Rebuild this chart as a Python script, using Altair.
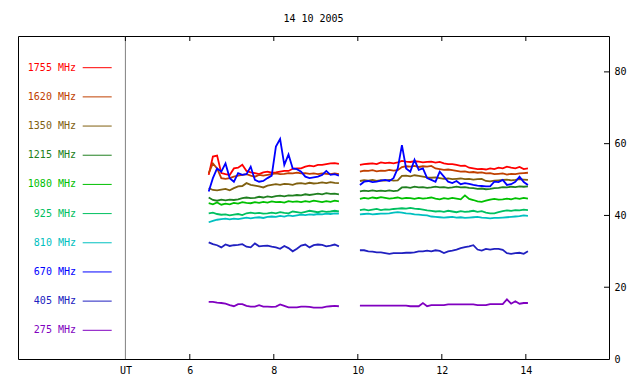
import altair as alt
import pandas as pd

FONT = "DejaVu Sans Mono"
TITLE = "14 10 2005"

BANDS = ["1755 MHz", "1620 MHz", "1350 MHz", "1215 MHz", "1080 MHz",
         "925 MHz", "810 MHz", "670 MHz", "405 MHz", "275 MHz"]
COLORS = ["#ff0000", "#c04000", "#806010", "#208020", "#00c000",
          "#00c060", "#00c0c0", "#0000ff", "#2020c0", "#8000c0"]

X_TICK_HOURS = [6, 8, 10, 12, 14]
UT_HOUR = 4.467
Y_TICKS = [0, 20, 40, 60, 80]
Y_INNER_TICKS = [20, 40, 60, 80]

T1 = [6.45, 6.55, 6.65, 6.75, 6.85, 6.95, 7.05, 7.15, 7.25, 7.35, 7.45, 7.55,
      7.65, 7.75, 7.85, 7.95, 8.05, 8.15, 8.25, 8.35, 8.45, 8.55, 8.65, 8.75,
      8.85, 8.95, 9.05, 9.15, 9.25, 9.35, 9.45, 9.55]
T2 = [10.05, 10.15, 10.25, 10.35, 10.45, 10.55, 10.65, 10.75, 10.85, 10.95,
      11.05, 11.15, 11.25, 11.35, 11.45, 11.55, 11.65, 11.75, 11.85, 11.95,
      12.05, 12.15, 12.25, 12.35, 12.45, 12.55, 12.65, 12.75, 12.85, 12.95,
      13.05, 13.15, 13.25, 13.35, 13.45, 13.55, 13.65, 13.75, 13.85, 13.95, 14.05]

V1755_A = [51.3, 56.4, 56.7, 51.8, 51.5, 51.3, 53.1, 53.3, 54.1, 52.4, 52.0, 51.8,
           51.5, 52.0, 52.2, 51.9, 52.0, 52.2, 52.4, 52.4, 53.0, 53.1, 53.1, 53.6,
           53.9, 53.7, 54.1, 54.1, 54.3, 54.5, 54.6, 54.4]
V1755_B = [54.1, 54.3, 54.4, 54.5, 54.3, 54.8, 54.6, 54.7, 54.5, 54.8, 55.2, 55.0,
           54.9, 55.1, 55.0, 54.8, 54.9, 55.0, 54.7, 54.9, 54.5, 54.3, 54.3, 54.1,
           53.8, 53.9, 53.3, 53.1, 52.9, 53.0, 52.8, 53.1, 52.9, 53.3, 53.1, 53.6,
           53.3, 53.1, 53.5, 52.9, 53.1]
V1620_A = [51.8, 54.5, 53.1, 50.4, 50.2, 50.4, 50.8, 51.1, 51.3, 51.5, 51.1, 50.8,
           51.3, 51.1, 51.3, 51.5, 51.7, 51.5, 51.6, 51.8, 51.7, 51.9, 51.7, 51.8,
           51.6, 51.7, 51.5, 51.7, 51.6, 51.5, 51.7, 51.5]
V1620_B = [52.2, 52.5, 52.4, 52.6, 52.3, 52.5, 52.4, 52.7, 52.5, 52.6, 53.5, 53.7,
           53.6, 53.8, 53.5, 53.7, 53.6, 53.8, 53.1, 52.9, 52.7, 52.8, 52.6, 52.4,
           52.2, 52.3, 52.0, 52.1, 51.9, 52.0, 51.7, 51.8, 51.5, 51.6, 51.7, 51.4,
           51.6, 51.5, 51.7, 51.8, 51.9]
V1350_A = [47.6, 47.1, 47.0, 47.2, 47.4, 47.0, 47.6, 48.1, 48.2, 49.0, 48.5, 48.3,
           48.1, 47.8, 48.3, 48.5, 48.7, 48.5, 48.8, 48.7, 48.5, 48.9, 49.0, 48.8,
           49.1, 48.9, 49.0, 49.2, 49.0, 49.3, 49.1, 49.0]
V1350_B = [49.6, 49.8, 49.7, 49.9, 49.6, 49.8, 49.7, 49.9, 49.7, 49.8, 51.0, 51.1,
           50.9, 51.2, 51.0, 50.8, 50.6, 50.5, 50.6, 50.4, 50.2, 50.3, 50.1, 50.2,
           50.3, 50.1, 50.2, 50.0, 50.1, 50.2, 49.6, 49.5, 49.7, 49.8, 49.9, 50.0,
           49.8, 49.9, 50.1, 50.0, 49.9]
V1215_A = [45.0, 44.3, 44.1, 44.4, 44.2, 44.4, 44.3, 44.5, 44.8, 45.0, 44.8, 44.9,
           45.2, 45.0, 45.3, 45.1, 45.4, 45.5, 45.3, 45.6, 45.5, 45.7, 45.6, 45.9,
           45.7, 45.9, 46.1, 45.9, 46.2, 46.0, 46.1, 45.9]
V1215_B = [46.7, 46.9, 46.8, 47.0, 46.8, 46.9, 46.8, 47.0, 46.8, 46.9, 47.8, 47.9,
           47.7, 48.0, 47.8, 47.9, 47.7, 47.8, 48.0, 47.8, 47.9, 47.7, 47.8, 48.0,
           47.8, 47.9, 47.7, 47.6, 47.4, 47.5, 47.3, 47.4, 47.6, 47.7, 47.9, 47.8,
           48.0, 47.9, 48.1, 48.0, 48.1]
V1080_A = [43.4, 43.1, 43.6, 43.0, 43.3, 43.1, 43.5, 43.3, 43.7, 43.5, 43.4, 43.7,
           43.5, 43.8, 43.6, 43.9, 43.7, 43.8, 43.6, 44.0, 43.8, 43.9, 43.7, 44.0,
           43.8, 44.1, 43.9, 43.7, 44.0, 43.8, 44.1, 43.9]
V1080_B = [44.6, 44.9, 44.7, 45.0, 44.8, 45.1, 44.9, 44.7, 44.8, 45.0, 44.7, 44.9,
           44.8, 44.6, 44.9, 44.7, 44.8, 45.0, 44.7, 44.5, 44.8, 44.6, 44.9, 44.7,
           44.5, 45.6, 44.6, 44.3, 43.9, 43.8, 44.1, 44.4, 44.6, 44.4, 44.5, 44.7,
           44.5, 44.8, 44.6, 44.9, 44.7]
V925_A = [40.6, 40.8, 40.4, 40.2, 40.3, 40.0, 40.2, 40.4, 40.1, 40.6, 40.8, 40.6,
          40.7, 40.5, 40.6, 40.8, 40.6, 40.9, 40.7, 40.6, 41.1, 40.9, 40.7, 41.0,
          41.3, 41.1, 40.9, 41.2, 41.0, 41.1, 41.3, 41.1]
V925_B = [41.5, 41.7, 41.4, 41.6, 41.8, 41.5, 41.7, 41.6, 41.8, 41.9, 42.0, 41.9,
          42.1, 41.9, 41.8, 41.6, 41.4, 41.3, 41.1, 41.2, 41.0, 41.3, 41.1, 40.9,
          41.2, 41.0, 41.1, 41.3, 41.0, 41.2, 40.8, 40.6, 40.6, 40.9, 41.2, 41.4,
          41.3, 41.5, 41.4, 41.6, 41.5]
V810_A = [38.1, 38.5, 38.8, 39.0, 39.1, 38.9, 39.1, 39.0, 39.2, 39.4, 39.2, 39.4,
          39.5, 39.3, 39.6, 39.7, 39.6, 39.9, 39.7, 40.0, 39.8, 40.0, 40.2, 40.1,
          40.3, 40.2, 40.4, 40.3, 40.5, 40.4, 40.6, 40.5]
V810_B = [40.3, 40.4, 40.5, 40.3, 40.4, 40.5, 40.5, 40.6, 40.8, 40.9, 40.8, 40.6,
          40.5, 40.3, 40.2, 40.1, 40.0, 39.7, 39.6, 39.5, 39.4, 39.5, 39.6, 39.4,
          39.5, 39.3, 39.4, 39.5, 39.6, 39.4, 39.3, 39.2, 39.3, 39.3, 39.4, 39.5,
          39.6, 39.7, 39.8, 40.0, 39.9]
V670_A = [46.7, 50.4, 53.1, 52.2, 54.5, 50.4, 49.4, 51.8, 51.3, 51.5, 53.6, 49.9,
          49.4, 49.6, 50.4, 51.1, 59.2, 61.3, 54.1, 57.0, 53.1, 52.9, 52.2, 50.8,
          50.4, 50.6, 50.8, 51.3, 52.4, 51.3, 51.5, 51.1]
V670_B = [48.5, 49.4, 49.6, 49.3, 49.4, 49.7, 49.9, 49.6, 50.4, 53.1, 59.6, 53.1,
          52.2, 55.5, 52.7, 53.1, 50.4, 49.9, 49.4, 52.2, 50.8, 49.4, 49.0, 49.6,
          48.7, 49.0, 48.8, 48.5, 48.3, 48.2, 48.1, 48.1, 49.4, 49.3, 49.9, 48.5,
          48.7, 49.4, 50.8, 49.3, 48.5]
V405_A = [32.5, 32.0, 31.7, 31.1, 31.9, 31.5, 31.7, 31.8, 32.0, 31.3, 31.1, 32.2,
          31.4, 31.5, 31.6, 31.3, 31.1, 30.7, 31.5, 30.9, 30.0, 30.7, 31.6, 31.9,
          31.1, 31.7, 31.9, 31.8, 31.4, 31.6, 31.9, 31.4]
V405_B = [30.3, 30.3, 30.0, 29.9, 29.7, 29.7, 29.5, 29.3, 29.5, 29.5, 29.5, 29.6,
          29.6, 29.7, 30.0, 30.0, 30.2, 30.0, 30.3, 30.1, 29.5, 30.0, 30.2, 30.5,
          30.9, 31.2, 31.4, 31.7, 30.5, 30.2, 30.7, 30.5, 30.7, 30.7, 30.4, 29.5,
          29.3, 29.5, 29.6, 29.3, 30.0]
V275_A = [15.9, 15.9, 15.7, 15.6, 15.4, 15.0, 14.7, 15.3, 15.3, 14.8, 14.6, 14.6,
          15.0, 14.6, 14.6, 14.5, 14.6, 15.2, 14.8, 14.4, 14.4, 14.4, 14.6, 14.6,
          14.5, 14.3, 14.3, 14.3, 14.6, 14.7, 14.8, 14.7]
V275_B = [14.9, 14.9, 14.9, 14.9, 14.9, 14.9, 14.9, 14.9, 14.9, 14.9, 14.9, 14.9,
          14.7, 14.7, 14.7, 15.6, 14.7, 15.0, 15.0, 15.0, 15.0, 15.2, 15.2, 15.2,
          15.2, 15.2, 15.2, 15.2, 15.0, 15.0, 15.0, 15.3, 15.3, 15.3, 15.3, 16.6,
          15.4, 16.1, 15.4, 15.6, 15.6]

SERIES = {
    "1755 MHz": (V1755_A, V1755_B), "1620 MHz": (V1620_A, V1620_B),
    "1350 MHz": (V1350_A, V1350_B), "1215 MHz": (V1215_A, V1215_B),
    "1080 MHz": (V1080_A, V1080_B), "925 MHz": (V925_A, V925_B),
    "810 MHz": (V810_A, V810_B), "670 MHz": (V670_A, V670_B),
    "405 MHz": (V405_A, V405_B), "275 MHz": (V275_A, V275_B),
}

rows = []
for band, (va, vb) in SERIES.items():
    for t, v in zip(T1, va):
        rows.append({"t": t, "v": v, "band": band, "seg": band + " a"})
    for t, v in zip(T2, vb):
        rows.append({"t": t, "v": v, "band": band, "seg": band + " b"})
df = pd.DataFrame(rows)

W, H = 591, 323
XSCALE = alt.Scale(domain=[1.91, 15.98], nice=False, zero=False)
YSCALE = alt.Scale(domain=[0, 90], nice=False, zero=False)
CSCALE = alt.Scale(domain=BANDS, range=COLORS)
LEG_Y = alt.Y("band:N", sort=BANDS, axis=None,
              scale=alt.Scale(type="point", range=[31.7, 294.3], padding=0))

lines = alt.Chart(df).mark_line(strokeWidth=1.8).encode(
    x=alt.X("t:Q", scale=XSCALE, title=None,
            axis=alt.Axis(values=[UT_HOUR] + X_TICK_HOURS, format="d",
                          labelExpr="datum.value < 5 ? 'UT' : datum.label",
                          ticks=False, domain=False, grid=False,
                          labelFont=FONT, labelFontSize=10, labelColor="black",
                          labelPadding=6)),
    y=alt.Y("v:Q", scale=YSCALE, title=None,
            axis=alt.Axis(orient="right", values=Y_TICKS, ticks=False,
                          domain=False, grid=False, labelFont=FONT,
                          labelFontSize=10, labelColor="black", labelPadding=5)),
    color=alt.Color("band:N", scale=CSCALE, legend=None),
    detail="seg:N",
)

ut_line = alt.Chart(pd.DataFrame({"t": [UT_HOUR]})).mark_rule(
    color="#808080", strokeWidth=1).encode(
    x=alt.X("t:Q", scale=XSCALE, title=None),
    y=alt.value(0), y2=alt.value(H))

bottom_ticks = alt.Chart(pd.DataFrame({"t": X_TICK_HOURS})).mark_rule(
    color="black").encode(
    x=alt.X("t:Q", scale=XSCALE, title=None),
    y=alt.value(H - 5), y2=alt.value(H))

top_ticks = alt.Chart(pd.DataFrame({"t": [UT_HOUR] + X_TICK_HOURS})).mark_rule(
    color="black").encode(
    x=alt.X("t:Q", scale=XSCALE, title=None),
    y=alt.value(0), y2=alt.value(5))

right_ticks = alt.Chart(pd.DataFrame({"v": Y_INNER_TICKS})).mark_rule(
    color="black").encode(
    y=alt.Y("v:Q", scale=YSCALE, axis=None, title=None),
    x=alt.value(W - 5), x2=alt.value(W))

legend_df = pd.DataFrame({"band": BANDS})
legend_text = alt.Chart(legend_df).mark_text(
    align="right", baseline="middle", font=FONT, fontSize=10, x=58).encode(
    y=LEG_Y, text="band:N",
    color=alt.Color("band:N", scale=CSCALE, legend=None))

legend_lines = alt.Chart(legend_df).mark_rule(strokeWidth=1).encode(
    y=LEG_Y, x=alt.value(64.7), x2=alt.value(93.7),
    color=alt.Color("band:N", scale=CSCALE, legend=None))

chart = alt.layer(
    ut_line, bottom_ticks, top_ticks, right_ticks, legend_lines, legend_text, lines
).resolve_scale(y="independent").properties(
    width=W, height=H,
    title=alt.TitleParams(TITLE, font=FONT, fontSize=10, fontWeight="normal",
                          color="black", anchor="middle", offset=12),
    autosize=alt.AutoSizeParams(type="none"),
    padding={"left": 10, "top": 28, "right": 22, "bottom": 17},
    background="white",
).configure_view(stroke="black", strokeWidth=1)

chart.save("out.html", embed_options={"renderer": "svg", "actions": False})
